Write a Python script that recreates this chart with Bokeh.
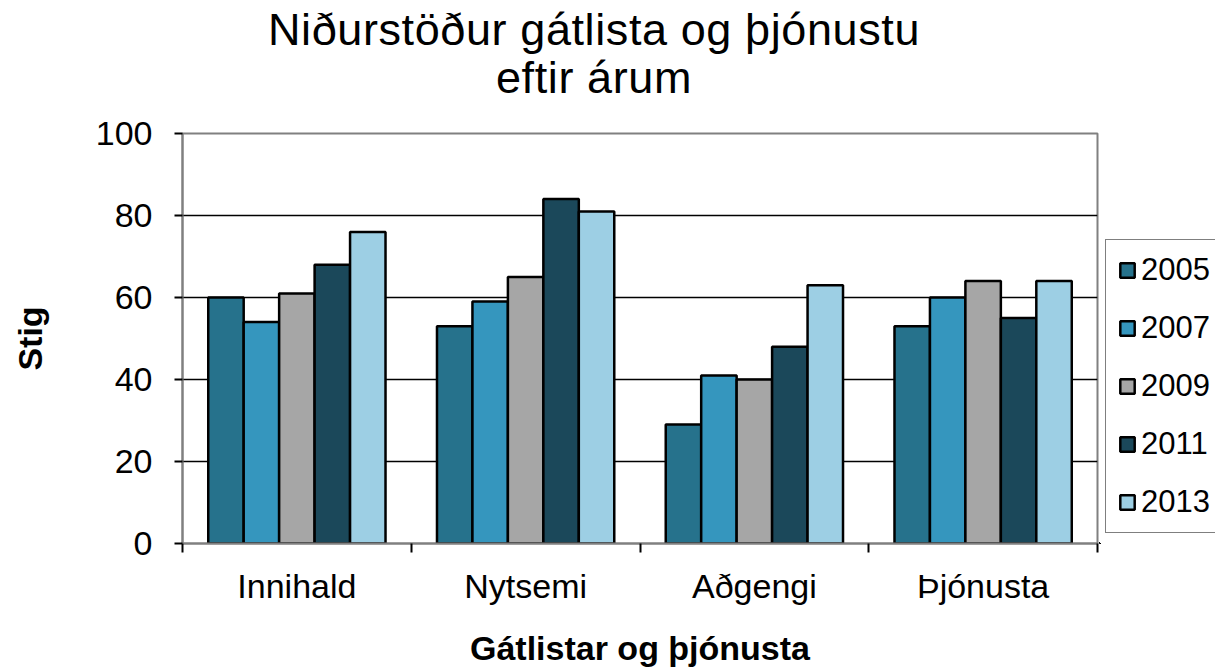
from bokeh.plotting import figure
from bokeh.layouts import column, row
from bokeh.models import ColumnDataSource, FixedTicker, Legend, LegendItem, Range1d, Div
from bokeh.transform import dodge
from bokeh.embed import file_html
from bokeh.resources import INLINE

categories = ["Innihald", "Nytsemi", "Aðgengi", "Þjónusta"]
years = ["2005", "2007", "2009", "2011", "2013"]
v2005 = [60, 53, 29, 53]
v2007 = [54, 59, 41, 60]
v2009 = [61, 65, 40, 64]
v2011 = [68, 84, 48, 55]
v2013 = [76, 81, 63, 64]
y_ticks = [0, 20, 40, 60, 80, 100]
colors = ["#26728C", "#3596BE", "#A6A6A6", "#1B485A", "#9DCFE4"]
title_lines = ["Niðurstöður gátlista og þjónustu", "eftir árum"]

FONT = "Liberation Sans"
x_pos = [i + 0.5 for i in range(len(categories))]
series = [v2005, v2007, v2009, v2011, v2013]
data = {"x": x_pos, "cat": categories}
for yr, vals in zip(years, series):
    data["y" + yr] = vals
source = ColumnDataSource(data)

TITLE_H = 105
PLOT_H = 672 - TITLE_H
MAIN_W = 1099
LEG_W = 1215 - MAIN_W

title = Div(text="<br>".join(title_lines), width=1188, height=TITLE_H, margin=0,
            styles={"font-family": FONT, "font-size": "45px", "line-height": "48px",
                    "text-align": "center", "color": "black", "padding-top": "6px",
                    "letter-spacing": "0.6px", "white-space": "nowrap"})

p = figure(width=MAIN_W, height=PLOT_H, x_range=Range1d(0, len(categories)),
           y_range=Range1d(0, 100), output_backend="svg", toolbar_location=None,
           min_border_left=182, min_border_right=2, min_border_top=28,
           min_border_bottom=129, background_fill_color="white",
           border_fill_color="white", margin=0)

bar_w = 0.155
offsets = [(k - 2) * bar_w for k in range(len(years))]
for yr, col, off in zip(years, colors, offsets):
    p.vbar(x=dodge("x", off), top="y" + yr, width=bar_w, source=source,
           fill_color=col, line_color="black", line_width=2.5)

# x axis
p.xaxis.ticker = FixedTicker(ticks=x_pos, minor_ticks=list(range(len(categories) + 1)))
p.xaxis.major_label_overrides = {x: c for x, c in zip(x_pos, categories)}
p.xaxis.major_tick_out = 0
p.xaxis.major_tick_in = 0
p.xaxis.minor_tick_out = 9
p.xaxis.minor_tick_in = 0
p.xaxis.minor_tick_line_color = "black"
p.xaxis.minor_tick_line_width = 2
p.xaxis.axis_line_color = "#808080"
p.xaxis.axis_line_width = 2
p.xaxis.major_label_text_font = FONT
p.xaxis.major_label_text_font_size = "34px"
p.xaxis.major_label_text_color = "black"
p.xaxis.major_label_standoff = 14
p.xaxis.axis_label = "Gátlistar og þjónusta"
p.xaxis.axis_label_text_font = FONT
p.xaxis.axis_label_text_font_size = "34px"
p.xaxis.axis_label_text_font_style = "bold"
p.xaxis.axis_label_text_color = "black"
p.xaxis.axis_label_standoff = 21

# y axis
p.yaxis.ticker = FixedTicker(ticks=y_ticks)
p.yaxis.major_tick_out = 8
p.yaxis.major_tick_in = 0
p.yaxis.major_tick_line_color = "black"
p.yaxis.major_tick_line_width = 2
p.yaxis.minor_tick_line_color = None
p.yaxis.axis_line_color = "#808080"
p.yaxis.axis_line_width = 2
p.yaxis.major_label_text_font = FONT
p.yaxis.major_label_text_font_size = "34px"
p.yaxis.major_label_text_color = "black"
p.yaxis.major_label_standoff = 22
p.yaxis.axis_label = "Stig"
p.yaxis.axis_label_text_font = FONT
p.yaxis.axis_label_text_font_size = "34px"
p.yaxis.axis_label_text_font_style = "bold"
p.yaxis.axis_label_text_color = "black"
p.yaxis.axis_label_standoff = 44

# grid and outline
p.xgrid.visible = False
p.ygrid.ticker = FixedTicker(ticks=[20, 40, 60, 80])
p.ygrid.grid_line_color = "black"
p.ygrid.grid_line_width = 1.5
p.outline_line_color = "#808080"
p.outline_line_width = 2

# legend panel (separate canvas so that it is cut at the window edge like the reference)
pl = figure(width=LEG_W, height=PLOT_H, output_backend="svg", toolbar_location=None,
            x_axis_type=None, y_axis_type=None, x_range=Range1d(1000, 1004),
            y_range=Range1d(1000, 1100), min_border_left=0, min_border_right=0,
            min_border_top=0, min_border_bottom=0, outline_line_color=None,
            background_fill_color="white", border_fill_color="white", margin=0)
items = []
for yr, col, off in zip(years, colors, offsets):
    # same bars, kept far outside this canvas's visible range; only their legend swatch shows
    r = pl.vbar(x=dodge("x", off), top="y" + yr, width=bar_w, source=source,
                fill_color=col, line_color="black", line_width=2.5)
    items.append(LegendItem(label=yr, renderers=[r]))
legend = Legend(items=items, location=(6, 10), border_line_color="black",
                border_line_width=1, background_fill_color="white",
                background_fill_alpha=1, label_text_font_size="31px",
                label_text_font=FONT, label_text_color="black",
                glyph_width=18, glyph_height=18, label_standoff=5,
                label_height=31, spacing=22, padding=12, margin=0)
pl.add_layout(legend)

layout = column(title, row(p, pl, spacing=0, margin=0), spacing=0, margin=0)
open("out.html", "w").write(file_html(layout, INLINE))
